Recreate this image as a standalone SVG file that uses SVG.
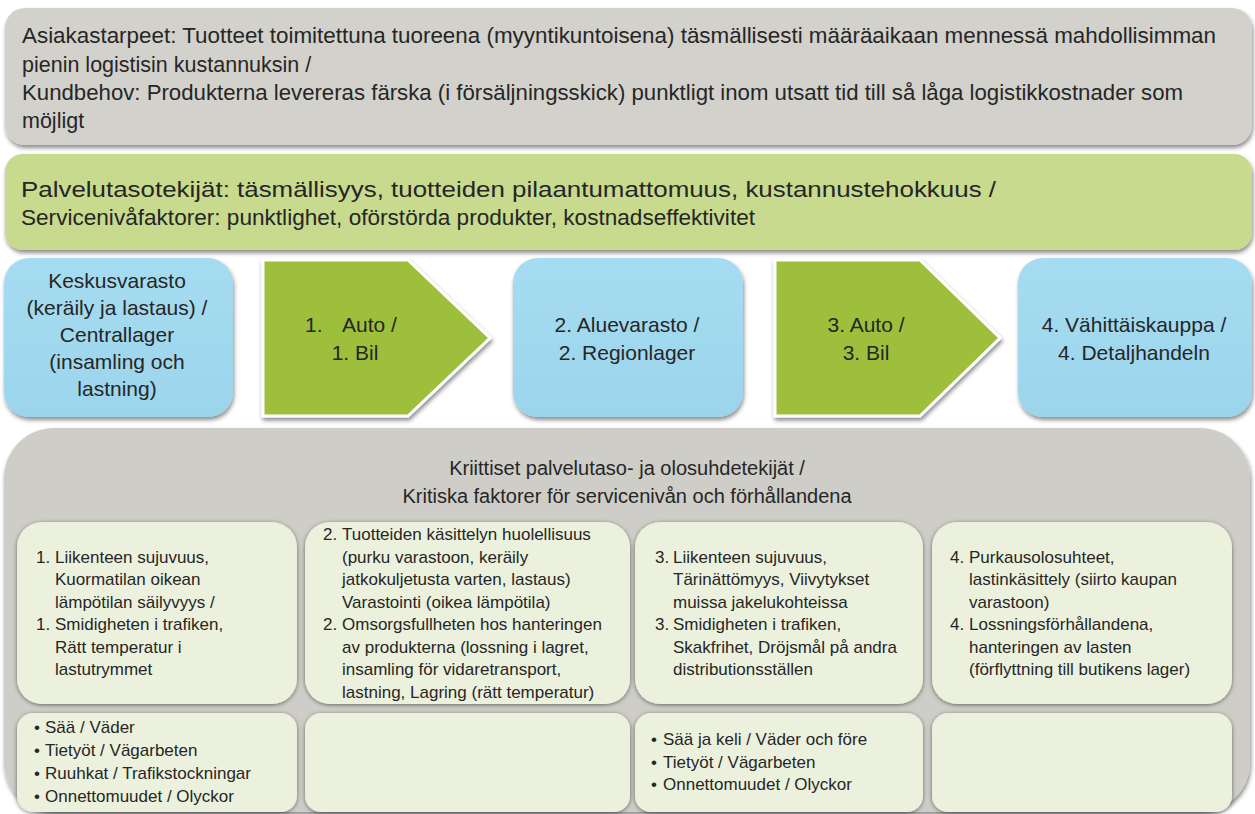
<svg xmlns="http://www.w3.org/2000/svg" width="1255" height="814" viewBox="0 0 1255 814">
<style>
  text { font-family: "Liberation Sans", Arial, sans-serif; fill: #262626; }
  .big { font-size: 21.5px; }
  .mid { font-size: 21px; text-anchor: middle; }
  .ttl { font-size: 20px; text-anchor: middle; }
  .sm { font-size: 17px; }
  .gray { fill: #d3d1cb; }
  .lime { fill: #c8da8e; }
  .blue { fill: url(#blueGrad); }
  .chev { fill: #9ebf3b; stroke: #ffffff; stroke-width: 3; stroke-linejoin: miter; }
  .bg { fill: #cfcdc7; }
  .cell { fill: #ebf1dd; }
</style>
<defs>
  <linearGradient id="blueGrad" x1="0" y1="0" x2="0" y2="1">
    <stop offset="0" stop-color="#a6dcf1"/>
    <stop offset="1" stop-color="#9bd5ec"/>
  </linearGradient>
  <filter id="sh" x="-5%" y="-10%" width="110%" height="130%">
    <feDropShadow dx="1" dy="3" stdDeviation="2" flood-color="#000" flood-opacity="0.45"/>
  </filter>
  <filter id="shc" x="-5%" y="-10%" width="110%" height="125%">
    <feDropShadow dx="0" dy="1" stdDeviation="2" flood-color="#000" flood-opacity="0.5"/>
  </filter>
</defs>
<rect width="1255" height="814" fill="#ffffff"/>

<g id="customer-needs">
  <rect class="gray" x="5" y="8" width="1247" height="137" rx="20" filter="url(#sh)"/>
  <text class="big" x="22" y="43" textLength="1194" lengthAdjust="spacingAndGlyphs">Asiakastarpeet: Tuotteet toimitettuna tuoreena (myyntikuntoisena) täsmällisesti määräaikaan mennessä mahdollisimman</text>
  <text class="big" x="22" y="72">pienin logistisin kustannuksin /</text>
  <text class="big" x="22" y="100" textLength="1161" lengthAdjust="spacingAndGlyphs">Kundbehov: Produkterna levereras färska (i försäljningsskick) punktligt inom utsatt tid till så låga logistikkostnader som</text>
  <text class="big" x="22" y="128">möjligt</text>
</g>

<g id="service-factors">
  <rect class="lime" x="5" y="154" width="1247" height="96" rx="18" filter="url(#sh)"/>
  <text class="big" x="21" y="197" textLength="975" lengthAdjust="spacingAndGlyphs">Palvelutasotekijät: täsmällisyys, tuotteiden pilaantumattomuus, kustannustehokkuus /</text>
  <text class="big" x="21" y="225" textLength="734" lengthAdjust="spacingAndGlyphs">Servicenivåfaktorer: punktlighet, oförstörda produkter, kostnadseffektivitet</text>
</g>

<g id="central-warehouse">
  <rect class="blue" x="4" y="258" width="229" height="159" rx="25" filter="url(#sh)"/>
  <text class="mid" x="117" y="288">Keskusvarasto</text>
  <text class="mid" x="117" y="315">(keräily ja lastaus) /</text>
  <text class="mid" x="117" y="342">Centrallager</text>
  <text class="mid" x="117" y="369">(insamling och</text>
  <text class="mid" x="117" y="396">lastning)</text>
</g>

<g id="truck-1">
  <polygon class="chev" points="263,260 408,260 490,338 408,416 263,416" filter="url(#sh)"/>
  <text class="big" style="font-size:21px" y="332"><tspan x="305">1.</tspan><tspan x="342">Auto /</tspan></text>
  <text class="mid" x="355" y="360">1. Bil</text>
</g>

<g id="regional-warehouse">
  <rect class="blue" x="513" y="258" width="230" height="159" rx="25" filter="url(#sh)"/>
  <text class="mid" x="627" y="332">2. Aluevarasto /</text>
  <text class="mid" x="627" y="360">2. Regionlager</text>
</g>

<g id="truck-3">
  <polygon class="chev" points="775,260 920,260 1000,338 920,416 775,416" filter="url(#sh)"/>
  <text class="mid" x="866" y="332">3. Auto /</text>
  <text class="mid" x="866" y="360">3. Bil</text>
</g>

<g id="retail">
  <rect class="blue" x="1018" y="258" width="234" height="159" rx="25" filter="url(#sh)"/>
  <text class="mid" x="1134" y="332">4. Vähittäiskauppa /</text>
  <text class="mid" x="1134" y="360">4. Detaljhandeln</text>
</g>

<g id="critical-factors">
  <rect class="bg" x="4" y="428" width="1246" height="384" rx="50" filter="url(#sh)"/>
  <text class="ttl" x="627" y="475">Kriittiset palvelutaso- ja olosuhdetekijät /</text>
  <text class="ttl" x="627" y="503">Kritiska faktorer för servicenivån och förhållandena</text>
</g>

<g id="factors-1">
  <rect class="cell" x="17" y="522" width="280" height="182" rx="25" filter="url(#shc)"/>
  <text class="sm" y="562.5"><tspan x="36">1.</tspan><tspan x="55">Liikenteen sujuvuus,</tspan></text>
  <text class="sm" x="55" y="585">Kuormatilan oikean</text>
  <text class="sm" x="55" y="607.5">lämpötilan säilyvyys /</text>
  <text class="sm" y="630"><tspan x="36">1.</tspan><tspan x="55">Smidigheten i trafiken,</tspan></text>
  <text class="sm" x="55" y="652.5">Rätt temperatur i</text>
  <text class="sm" x="55" y="675">lastutrymmet</text>
</g>

<g id="factors-2">
  <rect class="cell" x="305" y="522" width="325" height="182" rx="25" filter="url(#shc)"/>
  <text class="sm" y="540"><tspan x="323">2.</tspan><tspan x="342">Tuotteiden käsittelyn huolellisuus</tspan></text>
  <text class="sm" x="342" y="562.5">(purku varastoon, keräily</text>
  <text class="sm" x="342" y="585">jatkokuljetusta varten, lastaus)</text>
  <text class="sm" x="342" y="607.5">Varastointi (oikea lämpötila)</text>
  <text class="sm" y="630"><tspan x="323">2.</tspan><tspan x="342">Omsorgsfullheten hos hanteringen</tspan></text>
  <text class="sm" x="342" y="652.5">av produkterna (lossning i lagret,</text>
  <text class="sm" x="342" y="675">insamling för vidaretransport,</text>
  <text class="sm" x="342" y="697.5">lastning, Lagring (rätt temperatur)</text>
</g>

<g id="factors-3">
  <rect class="cell" x="635" y="522" width="288" height="182" rx="25" filter="url(#shc)"/>
  <text class="sm" y="562.5"><tspan x="655">3.</tspan><tspan x="673">Liikenteen sujuvuus,</tspan></text>
  <text class="sm" x="673" y="585">Tärinättömyys, Viivytykset</text>
  <text class="sm" x="673" y="607.5">muissa jakelukohteissa</text>
  <text class="sm" y="630"><tspan x="655">3.</tspan><tspan x="673">Smidigheten i trafiken,</tspan></text>
  <text class="sm" x="673" y="652.5">Skakfrihet, Dröjsmål på andra</text>
  <text class="sm" x="673" y="675">distributionsställen</text>
</g>

<g id="factors-4">
  <rect class="cell" x="932" y="522" width="300" height="182" rx="25" filter="url(#shc)"/>
  <text class="sm" y="562.5"><tspan x="950">4.</tspan><tspan x="969">Purkausolosuhteet,</tspan></text>
  <text class="sm" x="969" y="585">lastinkäsittely (siirto kaupan</text>
  <text class="sm" x="969" y="607.5">varastoon)</text>
  <text class="sm" y="630"><tspan x="950">4.</tspan><tspan x="969">Lossningsförhållandena,</tspan></text>
  <text class="sm" x="969" y="652.5">hanteringen av lasten</text>
  <text class="sm" x="969" y="675">(förflyttning till butikens lager)</text>
</g>

<g id="conditions-1">
  <rect class="cell" x="17" y="713" width="280" height="99" rx="16" filter="url(#shc)"/>
  <text class="sm" y="733"><tspan x="34">•</tspan><tspan x="45">Sää / Väder</tspan></text>
  <text class="sm" y="756"><tspan x="34">•</tspan><tspan x="45">Tietyöt / Vägarbeten</tspan></text>
  <text class="sm" y="779"><tspan x="34">•</tspan><tspan x="45">Ruuhkat / Trafikstockningar</tspan></text>
  <text class="sm" y="802"><tspan x="34">•</tspan><tspan x="45">Onnettomuudet / Olyckor</tspan></text>
</g>

<g id="conditions-2">
  <rect class="cell" x="305" y="713" width="325" height="99" rx="16" filter="url(#shc)"/>
</g>

<g id="conditions-3">
  <rect class="cell" x="635" y="713" width="288" height="99" rx="16" filter="url(#shc)"/>
  <text class="sm" y="745"><tspan x="651">•</tspan><tspan x="663">Sää ja keli / Väder och före</tspan></text>
  <text class="sm" y="767.5"><tspan x="651">•</tspan><tspan x="663">Tietyöt / Vägarbeten</tspan></text>
  <text class="sm" y="790"><tspan x="651">•</tspan><tspan x="663">Onnettomuudet / Olyckor</tspan></text>
</g>

<g id="conditions-4">
  <rect class="cell" x="932" y="713" width="300" height="99" rx="16" filter="url(#shc)"/>
</g>

<g id="connectors"></g>
</svg>
